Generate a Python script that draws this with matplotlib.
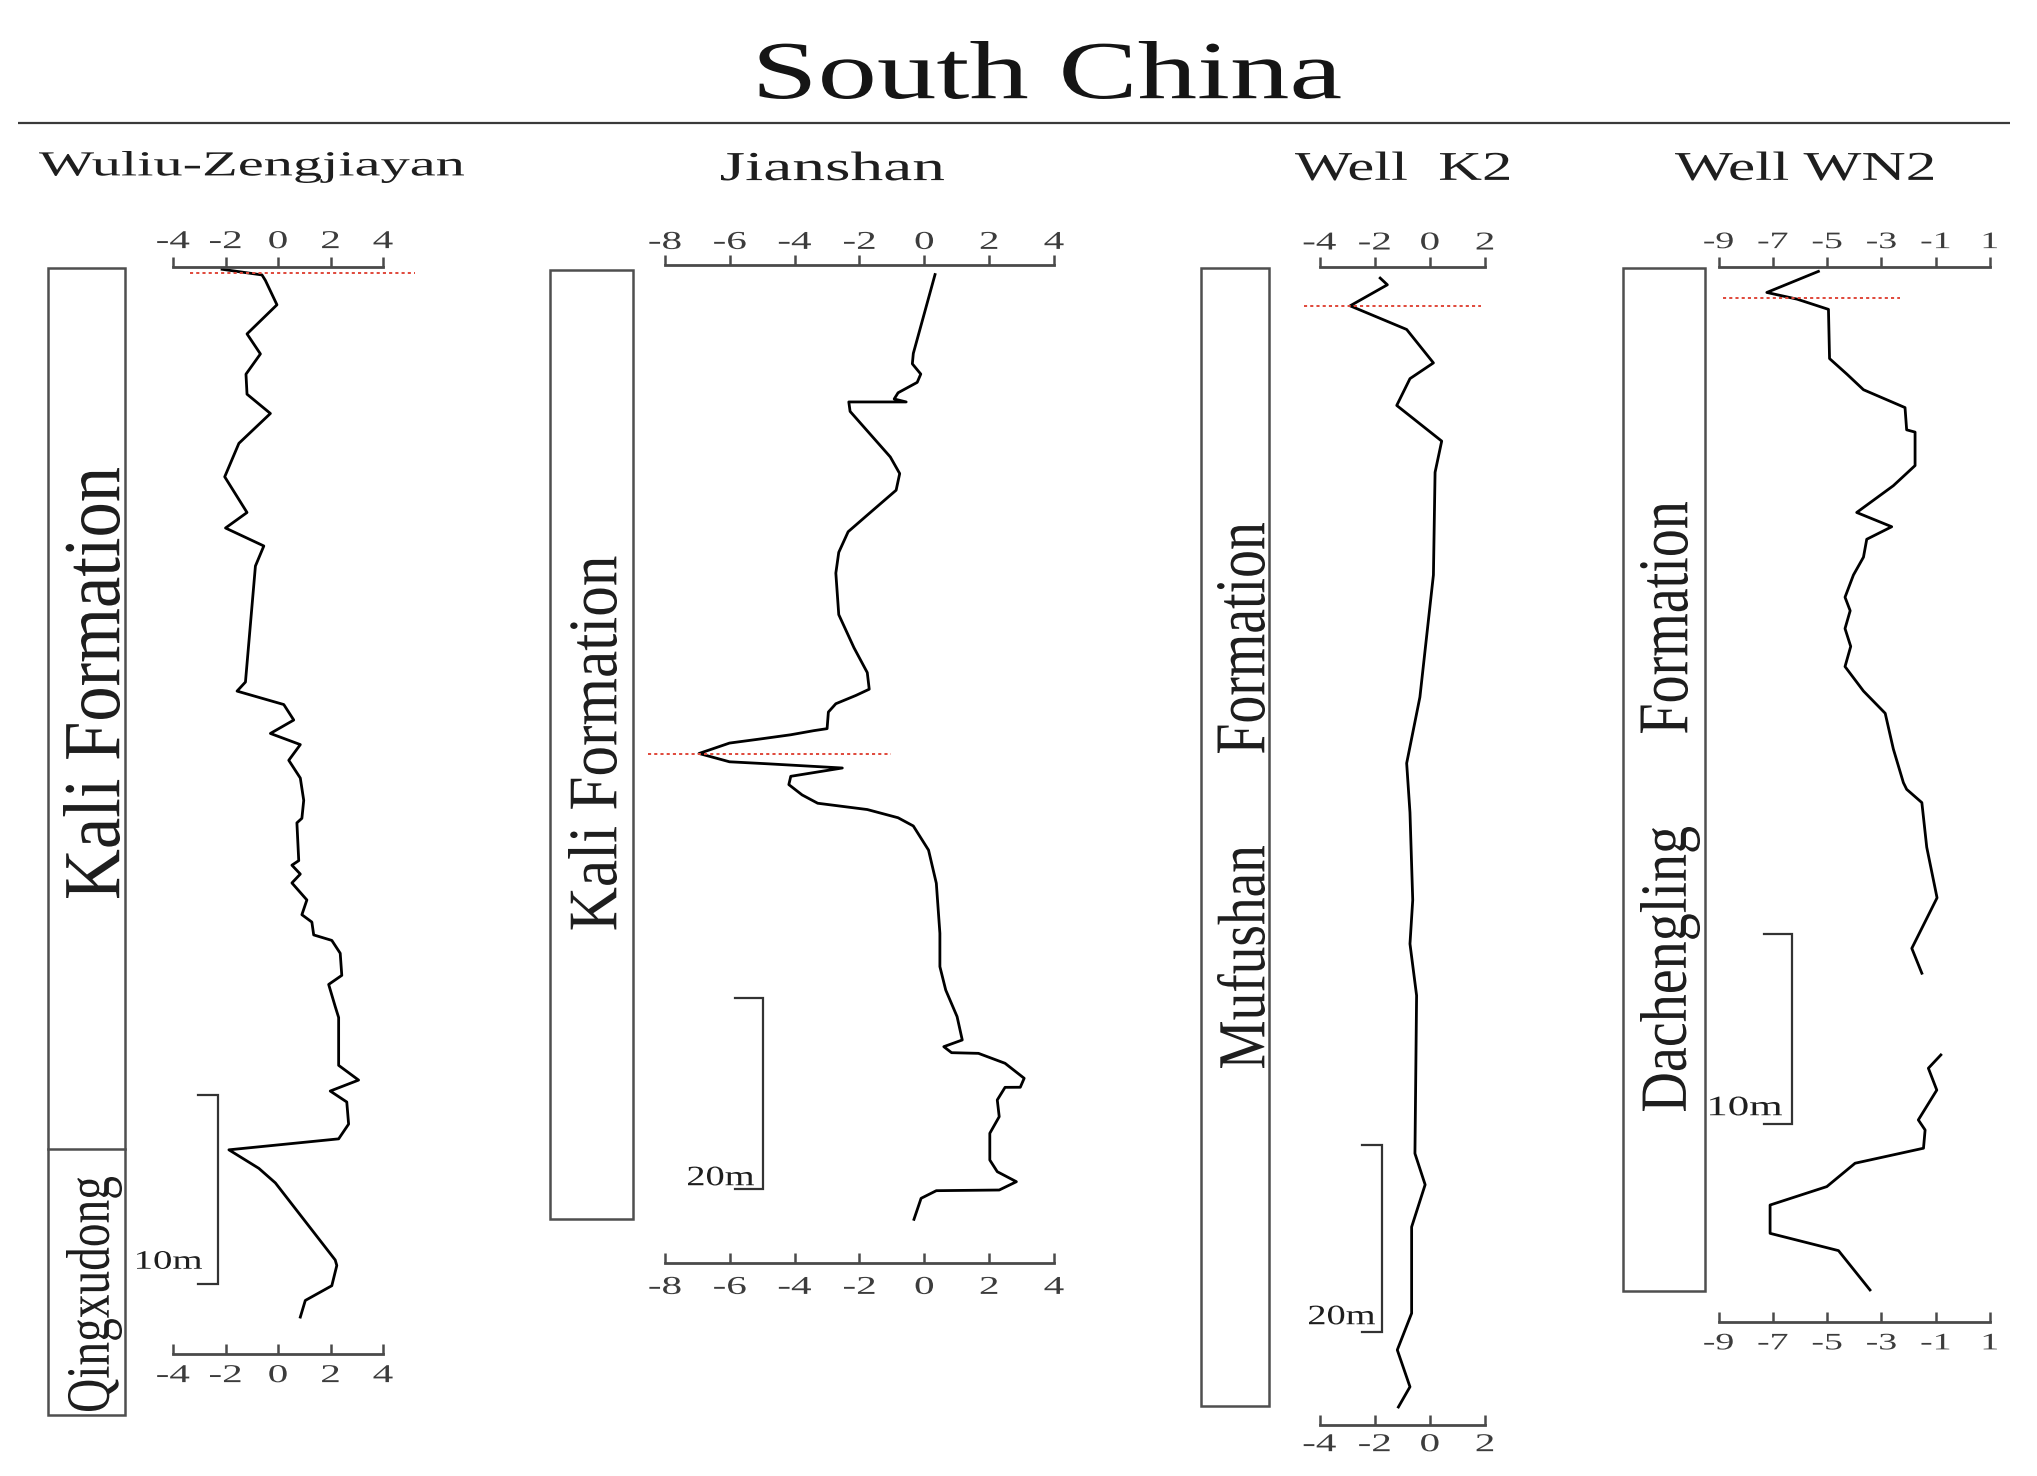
import matplotlib
matplotlib.use("Agg")
import matplotlib.pyplot as plt
from matplotlib.patheffects import AbstractPathEffect
from matplotlib.transforms import Affine2D
from matplotlib.patches import Rectangle

plt.rcParams['font.family'] = ['Liberation Serif', 'DejaVu Serif']
plt.rcParams['axes.unicode_minus'] = False

# ------------------------------------------------------------------ data
# d13C (permil) and depth (m below top of each section)
wuliu_d13c = [-2.13, -0.61, -0.48, -0.04, -1.18, -0.67, -1.22, -1.18, -0.29, -1.49,
              -2.03, -1.18, -2.00, -0.54, -0.86, -1.24, -1.56, 0.22, 0.60, -0.29,
              0.85, 0.41, 0.85, 0.98, 0.91, 0.72, 0.79, 0.53, 0.85, 0.53,
              1.10, 0.91, 1.29, 1.36, 2.05, 2.37, 2.43, 1.93, 2.18, 2.31,
              2.31, 3.07, 1.99, 2.62, 2.69, 2.31, -1.87, -0.73, -0.10, 2.18,
              2.24, 2.05, 1.04, 0.85]
wuliu_depth = [0.12, 0.42, 0.71, 2.00, 3.54, 4.60, 5.67, 6.73, 7.75, 9.33,
               11.10, 12.99, 13.81, 14.76, 15.82, 21.96, 22.44, 23.15, 23.97, 24.68,
               25.27, 26.10, 27.04, 28.22, 29.17, 29.41, 31.41, 31.65, 32.12, 32.59,
               33.49, 34.27, 34.66, 35.34, 35.63, 36.31, 37.48, 37.96, 39.13, 39.71,
               42.24, 43.02, 43.60, 44.18, 45.35, 46.13, 46.71, 47.69, 48.46, 52.54,
               52.83, 53.90, 54.68, 55.56]

jianshan_d13c = [0.33, -0.34, -0.37, -0.11, -0.22, -0.81, -0.93, -0.56, -2.33, -2.29,
                 -1.05, -0.76, -0.87, -1.76, -2.35, -2.64, -2.73, -2.64, -2.17, -1.76,
                 -1.70, -2.11, -2.73, -2.96, -3.00, -3.41, -4.12, -5.06, -6.01, -6.95,
                 -6.01, -4.83, -2.53, -4.12, -4.18, -3.77, -3.29, -1.76, -0.81, -0.34,
                 0.13, 0.37, 0.48, 0.48, 0.66, 1.01, 1.17, 0.60, 0.84, 1.67,
                 2.49, 3.08, 2.96, 2.49, 2.25, 2.31, 2.02, 2.02, 2.25, 2.84,
                 2.31, 0.37, -0.10, -0.32]
jianshan_depth = [1.00, 9.26, 10.35, 11.42, 12.29, 13.38, 14.03, 14.34, 14.34, 15.33,
                  20.10, 21.84, 23.58, 26.19, 27.93, 30.09, 32.26, 36.61, 40.08, 42.68,
                  44.42, 45.07, 45.94, 46.81, 48.55, 48.76, 49.19, 49.63, 50.06, 51.15,
                  52.02, 52.23, 52.67, 53.54, 54.41, 55.49, 56.36, 57.02, 57.88, 58.74,
                  61.27, 64.74, 69.98, 73.47, 75.92, 78.70, 81.15, 81.85, 82.48, 82.55,
                  83.59, 85.16, 86.10, 86.11, 87.43, 89.18, 90.92, 93.72, 94.94, 95.99,
                  96.86, 96.93, 97.73, 99.93]

k2_d13c = [-1.80, -1.54, -2.89, -0.84, 0.13, -0.72, -1.20, 0.43, 0.19, 0.13,
           -0.36, -0.84, -0.72, -0.62, -0.72, -0.48, -0.54, -0.17, -0.66, -0.66,
           -1.18, -0.72, -1.14]
k2_depth = [1.19, 1.91, 4.17, 6.71, 10.30, 11.99, 14.87, 18.70, 22.05, 33.08,
            46.20, 53.30, 58.60, 68.00, 72.70, 78.25, 95.22, 98.57, 103.11, 112.38,
            116.32, 120.28, 122.45]

wn2_upper_d13c = [-5.32, -7.22, -6.11, -4.95, -4.91, -4.27, -3.66, -2.13, -2.07, -1.76,
                  -1.76, -2.56, -3.91, -2.62, -3.54, -3.66, -4.03, -4.34, -4.15, -4.34,
                  -4.13, -4.34, -3.66, -2.86, -2.56, -2.19, -2.07, -1.51, -1.33, -0.95,
                  -1.88, -1.51]
wn2_upper_depth = [0.23, 1.34, 1.69, 2.23, 4.82, 5.64, 6.46, 7.40, 8.57, 8.69,
                   10.45, 11.51, 12.92, 13.67, 14.33, 15.27, 16.21, 17.38, 18.09, 19.03,
                   19.97, 21.03, 22.32, 23.49, 25.37, 27.14, 27.49, 28.19, 30.54, 33.20,
                   35.86, 37.17]
wn2_lower_d13c = [-0.81, -1.27, -0.96, -1.64, -1.39, -1.45, -3.97, -5.01, -7.10, -7.10,
                  -4.58, -3.42]
wn2_lower_depth = [41.47, 42.17, 43.32, 44.89, 45.42, 46.38, 47.17, 48.40, 49.37, 50.86,
                   51.77, 53.84]

# boundary (red dotted) lines: depth, x-from, x-to
wuliu_boundary = [0.31, -3.35, 5.22]
jianshan_boundary = [51.2, -8.51, -1.03]
k2_boundary = [4.17, -4.55, 1.85]
wn2_boundary = [1.64, -8.83, -2.32]

# axis ticks
wuliu_ticks = [-4, -2, 0, 2, 4]
jianshan_ticks = [-8, -6, -4, -2, 0, 2, 4]
k2_ticks = [-4, -2, 0, 2]
wn2_ticks = [-9, -7, -5, -3, -1, 1]

# scale bars: length (m), label
wuliu_scale = [10, "10m"]
jianshan_scale = [20, "20m"]
k2_scale = [20, "20m"]
wn2_scale = [10, "10m"]

title_text = "South China"
section_names = ["Wuliu-Zengjiayan", "Jianshan", "Well  K2", "Well WN2"]
formation_names = ["Kali Formation", "Qingxudong", "Kali Formation",
                   "Formation", "Mufushan", "Formation", "Dachengling"]

# ------------------------------------------------------------------ layout
W_PX, H_PX, DPI = 2037, 1476, 100
AXC = '#4a4a4a'
LABC = '#3c3c3c'
RED = '#e0483a'


class FitInk(AbstractPathEffect):
    """Scale the glyph outlines so that their ink box has size w x h, centred at (cx, cy) (pixels)."""
    def __init__(self, w, h, cx, cy):
        super().__init__()
        self.w, self.h, self.cx, self.cy = w, h, cx, cy

    def draw_path(self, renderer, gc, tpath, affine, rgbFace=None):
        bb = tpath.get_extents(affine)
        sx = self.w / max(bb.width, 1e-6)
        sy = self.h / max(bb.height, 1e-6)
        t = affine + Affine2D().translate(-(bb.x0 + bb.x1) / 2, -(bb.y0 + bb.y1) / 2) \
            .scale(sx, sy).translate(self.cx, self.cy)
        renderer.draw_path(gc, tpath, t, rgbFace)


class Widen(AbstractPathEffect):
    def __init__(self, sx=1.0, sy=1.0):
        super().__init__()
        self.sx, self.sy = sx, sy

    def draw_path(self, renderer, gc, tpath, affine, rgbFace=None):
        bb = tpath.get_extents(affine)
        cx, cy = (bb.x0 + bb.x1) / 2, (bb.y0 + bb.y1) / 2
        t = affine + Affine2D().translate(-cx, -cy).scale(self.sx, self.sy).translate(cx, cy)
        renderer.draw_path(gc, tpath, t, rgbFace)


fig = plt.figure(figsize=(W_PX / DPI, H_PX / DPI), dpi=DPI)
fig.patch.set_facecolor('white')
bg = fig.add_axes([0, 0, 1, 1])
bg.set_xlim(0, W_PX)
bg.set_ylim(H_PX, 0)
bg.axis('off')


def fit_text(s, cx, cy, w, h, rot=0, size=30, color='#1e1e1e'):
    t = bg.text(cx, cy, s, rotation=rot, ha='center', va='center',
                fontsize=size, color=color)
    t.set_path_effects([FitInk(w, h, cx, H_PX - cy)])
    return t


# title and rule
fit_text(title_text, 1050, 70, 581, 58, size=60, color='#151515')
bg.plot([18, 2010], [123, 123], color='#3a3a3a', lw=1.6, solid_capstyle='butt')

# section names
fit_text(section_names[0], 251.5, 167, 425, 32, size=30)
fit_text(section_names[1], 832.5, 166, 223, 29, size=30)
fit_text(section_names[2], 1402, 166, 214, 29, size=30)
fit_text(section_names[3], 1804, 166, 258, 29, size=30)

# formation columns
BOXC = '#4f4f4f'
for (x0, y0, x1, y1) in [(48, 268, 124.5, 1415), (549.5, 269.5, 632.7, 1219),
                         (1201, 268, 1269.3, 1406), (1623, 267.5, 1705, 1291)]:
    bg.add_patch(Rectangle((x0, y0), x1 - x0, y1 - y0, fill=False, ec=BOXC, lw=1.8))
bg.plot([48, 124.5], [1149, 1149], color=BOXC, lw=1.8)

fit_text(formation_names[0], 91.5, 683, 57, 430, rot=90, size=40)
fit_text(formation_names[1], 94, 1294, 56, 234, rot=90, size=40)
fit_text(formation_names[2], 592.5, 743, 49, 373, rot=90, size=40)
fit_text(formation_names[3], 1241, 638, 48, 230, rot=90, size=40)
fit_text(formation_names[4], 1241, 957, 48, 222, rot=90, size=40)
fit_text(formation_names[5], 1664, 617.5, 48, 231, rot=90, size=40)
fit_text(formation_names[6], 1670, 969, 60, 284, rot=90, size=40)


def profile(px, py, pxpm, xlim, ticks, top_pad, bot_pad, lsize):
    x0, x1 = px
    yt, yb = py
    ax = fig.add_axes([x0 / W_PX, 1 - yb / H_PX, (x1 - x0) / W_PX, (yb - yt) / H_PX])
    ax.set_xlim(*xlim)
    ax.set_ylim((yb - yt) / pxpm, 0)
    ax.patch.set_visible(False)
    ax.set_yticks([])
    axt = ax.twiny()
    axt.set_xlim(*xlim)
    axt.patch.set_visible(False)
    for a, keep in ((ax, 'bottom'), (axt, 'top')):
        for s in ('left', 'right', 'top', 'bottom'):
            a.spines[s].set_visible(s == keep)
        a.spines[keep].set_color(AXC)
        a.spines[keep].set_linewidth(2.0)
        a.set_xticks(ticks)
    ax.tick_params(axis='x', direction='in', length=7, width=1.8, color=AXC,
                   pad=bot_pad, labelsize=lsize, labelcolor=LABC,
                   top=False, labeltop=False, bottom=True, labelbottom=True)
    axt.tick_params(axis='x', direction='out', length=7, width=1.8, color=AXC,
                    pad=top_pad, labelsize=lsize, labelcolor=LABC,
                    top=True, labeltop=True, bottom=False, labelbottom=False)
    for a in (ax, axt):
        for tk in a.xaxis.get_major_ticks():
            tk.label1.set_path_effects([Widen(1.6)])
            tk.label2.set_path_effects([Widen(1.6)])
    return ax


def scale_bar(ax, xbar, xtick, d0, length):
    ax.plot([xtick, xbar, xbar, xtick], [d0, d0, d0 + length, d0 + length],
            color='#333333', lw=1.6, clip_on=False, solid_joinstyle='miter')


def boundary(ax, b):
    ax.plot([b[1], b[2]], [b[0], b[0]], color=RED, lw=1.4, ls=(0, (1.6, 1.6)),
            clip_on=False, zorder=3)


CURVE = dict(color='black', lw=2.0, clip_on=False, zorder=2)

# Wuliu-Zengjiayan
ax1 = profile((173, 383), (267, 1354), 18.9, (-4, 4), wuliu_ticks, 3.0, 8.0, 18.5)
boundary(ax1, wuliu_boundary)
ax1.plot(wuliu_d13c, wuliu_depth, **CURVE)
scale_bar(ax1, -2.29, -3.05, 43.8, wuliu_scale[0])
fit_text(wuliu_scale[1], 169.5, 1260, 65, 18, size=18)

# Jianshan
ax2 = profile((665, 1054), (265, 1263), 9.55, (-8, 4), jianshan_ticks, 1.0, 10.0, 18.5)
boundary(ax2, jianshan_boundary)
ax2.plot(jianshan_d13c, jianshan_depth, **CURVE)
scale_bar(ax2, -4.97, -5.83, 76.8, jianshan_scale[0])
fit_text(jianshan_scale[1], 721, 1176, 66, 19, size=18)

# Well K2
ax3 = profile((1319.5, 1485), (267, 1425), 9.31, (-4, 2), k2_ticks, 2.0, 6.6, 18.5)
boundary(ax3, k2_boundary)
ax3.plot(k2_d13c, k2_depth, **CURVE)
scale_bar(ax3, -1.74, -2.47, 94.35, k2_scale[0])
fit_text(k2_scale[1], 1342, 1315, 66, 19, size=18)

# Well WN2
ax4 = profile((1718.5, 1990), (267, 1321.7), 19.0, (-9, 1), wn2_ticks, 3.0, 8.4, 17.0)
boundary(ax4, wn2_boundary)
ax4.plot(wn2_upper_d13c, wn2_upper_depth, **CURVE)
ax4.plot(wn2_lower_d13c, wn2_lower_depth, **CURVE)
scale_bar(ax4, -6.30, -7.32, 35.1, wn2_scale[0])
fit_text(wn2_scale[1], 1746, 1106, 72, 19, size=18)

fig.savefig('out.png', dpi=DPI, facecolor='white')
